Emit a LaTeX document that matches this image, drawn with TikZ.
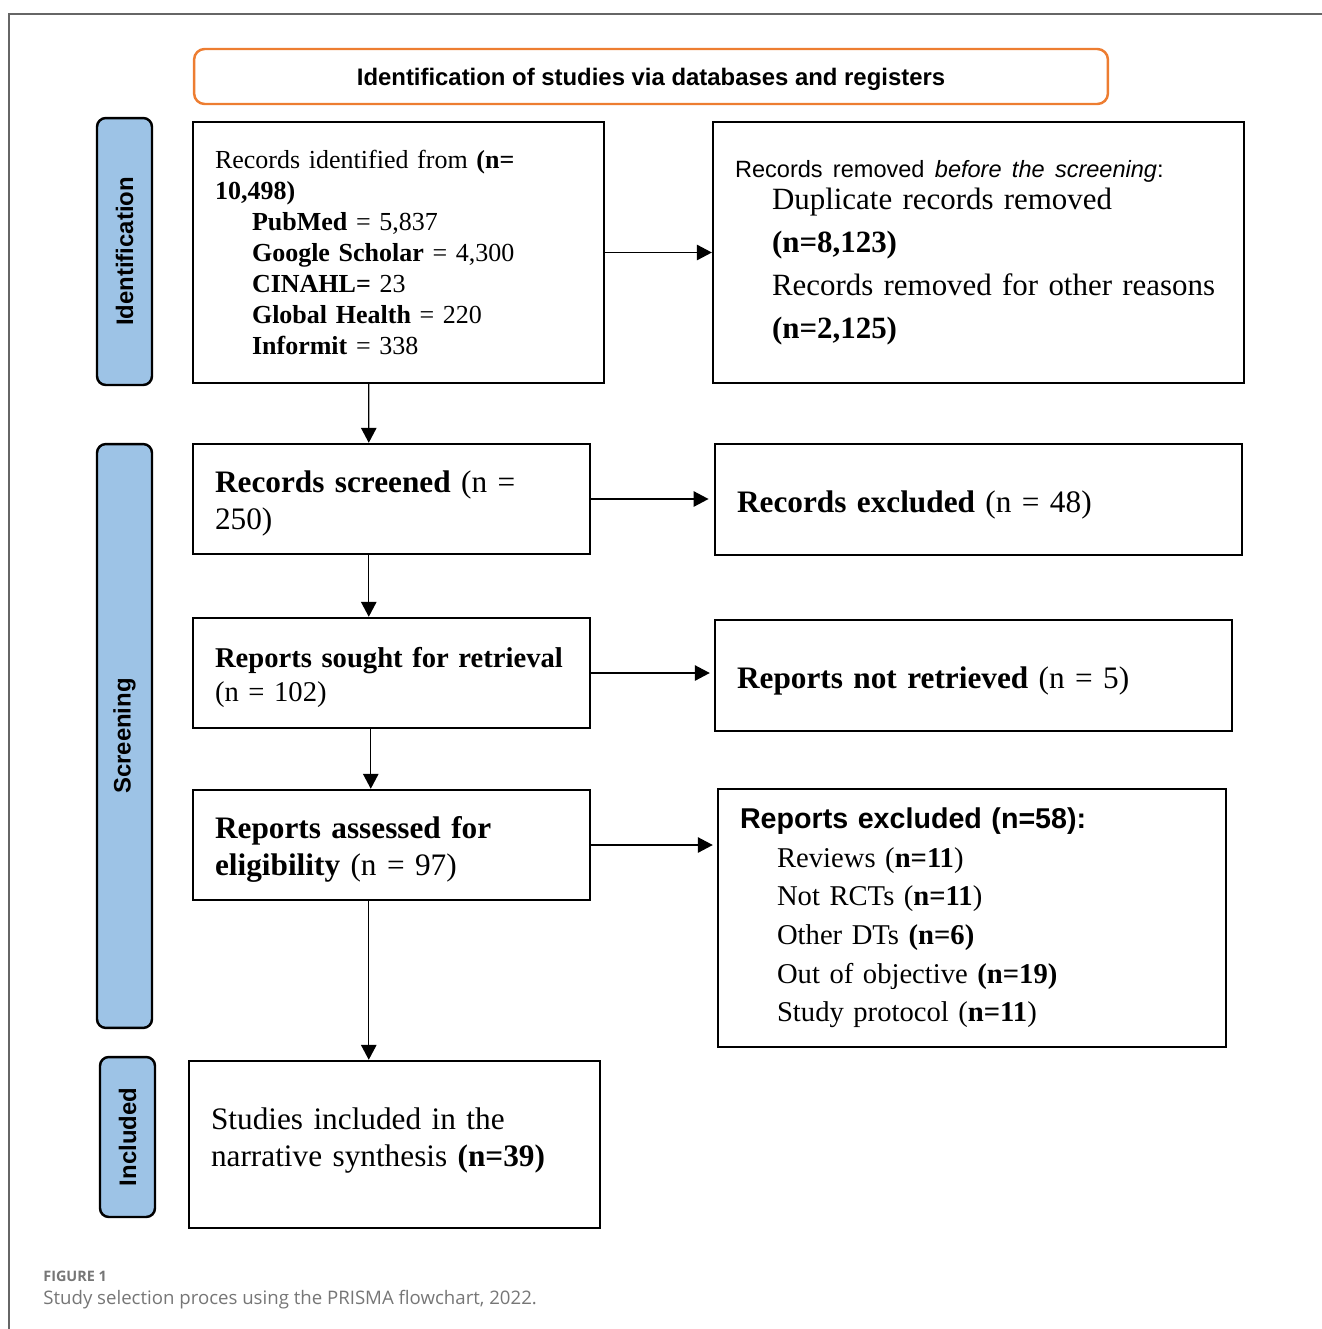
\documentclass[tikz,border=0pt]{standalone}
\usepackage{fontspec}
\setmainfont{Liberation Serif}
\setsansfont{Liberation Sans}
\newfontfamily\capfont{Open Sans}
\usetikzlibrary{arrows.meta, positioning}
\definecolor{prismaOrange}{HTML}{ED7D31}
\definecolor{prismaBlue}{HTML}{9DC3E6}
\definecolor{frameGray}{HTML}{666666}
\definecolor{capGray}{HTML}{767676}
\newcommand{\ind}{\hspace*{0.74cm}}
\newcommand{\tallstrut}[1]{\rule{0pt}{#1}}

\begin{document}
\begin{tikzpicture}[x=0.02cm, y=-0.02cm,
    box/.style={draw, line width=1.4pt, inner xsep=0.44cm, inner ysep=0pt,
                align=left},
    phase/.style={draw, line width=1.4pt, fill=prismaBlue, rounded corners=5pt,
                  rotate=90, inner sep=0pt,
                  font=\sffamily\bfseries\fontsize{13.6}{16}\selectfont},
    arr/.style={-{Triangle[length=0.3cm, width=0.31cm]}, line width=0.8pt},
  ]
  \useasboundingbox (0,0) rectangle (1322,1329);
  \draw[frameGray, line width=0.85pt] (1322,14) -- (9,14) -- (9,1329);

  % header and phase labels
  \node[draw=prismaOrange, line width=1.4pt, rounded corners=6pt,
        minimum width=18.28cm, minimum height=1.1cm, text depth=0pt,
        font=\sffamily\bfseries\fontsize{13.6}{16}\selectfont] (hdr) at (651,76.5)
    {Identification of studies via databases and registers};
  \node[phase, minimum width=5.34cm, minimum height=1.1cm] (ident) at (124.5,251.5)
    {Identification};
  \node[phase, minimum width=11.68cm, minimum height=1.1cm] (screen) at (124.5,736)
    {Screening};
  \node[phase, minimum width=3.2cm, minimum height=1.1cm] (incl) at (127.5,1137)
    {Included};

  % left column
  \node[box, text width=7.34cm, minimum height=5.22cm,
        font=\fontsize{14.8}{17.6}\selectfont] (b1) at (398.5,252.5)
    {Records identified from \textbf{(n=}\\
     \textbf{10,498)}\\
     \ind\textbf{PubMed} = 5,837\\
     \ind\textbf{Google Scholar} = 4,300\\
     \ind\textbf{CINAHL=} 23\\
     \ind\textbf{Global Health} = 220\\
     \ind\textbf{Informit} = 338};
  \node[box, text width=7.06cm, minimum height=2.2cm,
        font=\fontsize{17.8}{21}\selectfont] (b3) at (391.5,499)
    {\tallstrut{17.5pt}\textbf{Records screened} (n =\\ 250)};
  \node[box, text width=7.06cm, minimum height=2.2cm,
        font=\fontsize{16.3}{19.3}\selectfont] (b5) at (391.5,673)
    {\tallstrut{16.5pt}\textbf{Reports sought for retrieval}\\ (n = 102)};
  \node[box, text width=7.06cm, minimum height=2.2cm,
        font=\fontsize{17.8}{21}\selectfont] (b7) at (391.5,845)
    {\tallstrut{17.5pt}\textbf{Reports assessed for}\\ \textbf{eligibility} (n = 97)};
  \node[box, text width=7.34cm, minimum height=3.34cm,
        font=\fontsize{17.8}{21}\selectfont] (b9) at (394.5,1144.5)
    {Studies included in the\\ narrative synthesis \textbf{(n=39)}\rule[-8.5pt]{0pt}{0pt}};

  % right column
  \node[box, text width=9.74cm, minimum height=5.22cm,
        font=\fontsize{17.6}{24.4}\selectfont] (b2) at (978.5,252.5)
    {\hyphenpenalty=10000\relax
     {\sffamily\fontsize{13.4}{16}\selectfont Records removed \textit{before the screening}:}\\[-5.7pt]
     \ind Duplicate records removed\\
     \ind\textbf{(n=8,123)}\\
     \ind Records removed for other reasons\\
     \ind\textbf{(n=2,125)}};
  \node[box, text width=9.66cm, minimum height=2.22cm,
        font=\fontsize{17.8}{21}\selectfont] (b4) at (978.5,499.5)
    {\tallstrut{19pt}\textbf{Records excluded} (n = 48)};
  \node[box, text width=9.46cm, minimum height=2.22cm,
        font=\fontsize{17.8}{21}\selectfont] (b6) at (973.5,675.5)
    {\tallstrut{18.5pt}\textbf{Reports not retrieved} (n = 5)};
  \node[box, text width=9.28cm, minimum height=5.16cm,
        font=\fontsize{16.3}{22}\selectfont] (b8) at (972,918)
    {{\sffamily\bfseries\fontsize{16.3}{19}\selectfont Reports excluded (n=58):}\\
     \ind Reviews (\textbf{n=11})\\
     \ind Not RCTs (\textbf{n=11})\\
     \ind Other DTs \textbf{(n=6)}\\
     \ind Out of objective \textbf{(n=19)}\\
     \ind Study protocol (\textbf{n=11})};

  % caption
  \node[anchor=base west, inner sep=0pt, text=capGray,
        font=\capfont\bfseries\fontsize{8.2}{9}\selectfont] (figno) at (43,1281)
    {FIGURE 1};
  \node[anchor=base west, inner sep=0pt, text=capGray,
        font=\capfont\fontsize{10.6}{12}\selectfont] (caption) at (43,1304)
    {Study selection proces using the PRISMA flowchart, 2022.};

  % connectors
  \draw[arr] (b1.east) -- (b1.east -| b2.west);
  \draw[arr, shorten >=3pt] (b3.east) -- (b3.east -| b4.west);
  \draw[arr, shorten >=2.3pt] (b5.east) -- (b5.east -| b6.west);
  \draw[arr, shorten >=2.3pt] (b7.east) -- (b7.east -| b8.west);
  \draw[arr] ([xshift=3.54cm]b1.south west) -- ([xshift=3.54cm]b3.north west);
  \draw[arr] ([xshift=3.54cm]b3.south west) -- ([xshift=3.54cm]b5.north west);
  \draw[arr] ([xshift=3.58cm]b5.south west) -- ([xshift=3.58cm]b7.north west);
  \draw[arr] ([xshift=3.54cm]b7.south west) -- ([xshift=3.54cm]b7.south west |- b9.north);
\end{tikzpicture}
\end{document}
